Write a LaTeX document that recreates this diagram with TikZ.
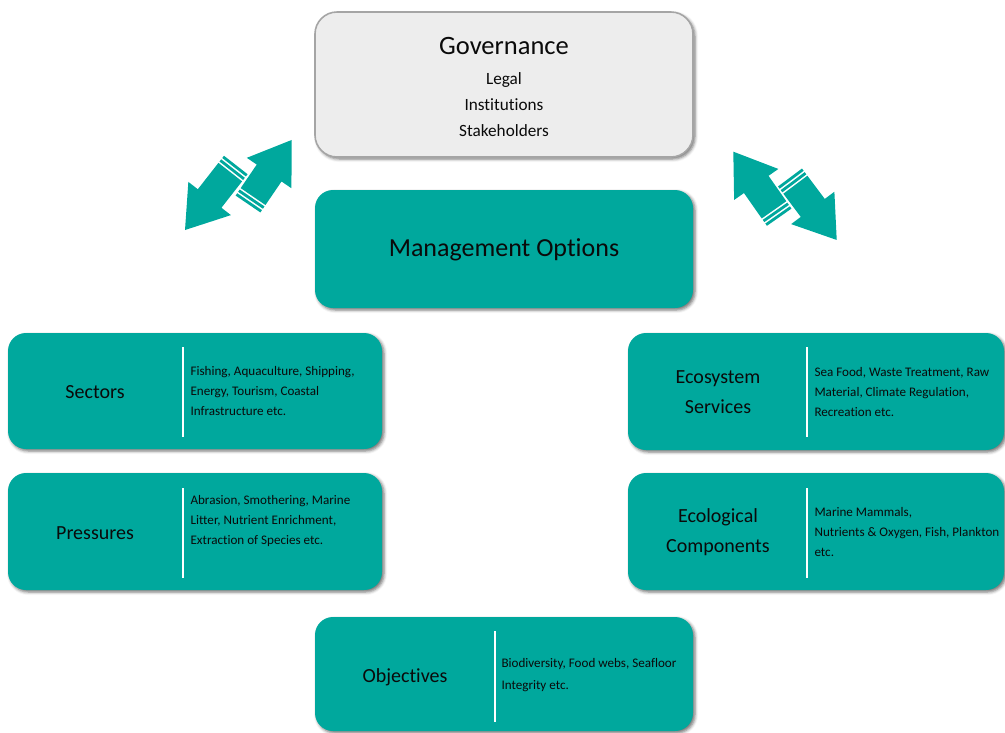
\documentclass[tikz,border=0pt]{standalone}
\usepackage{fontspec}
\setmainfont[Ligatures={NoCommon}]{Carlito}
\usetikzlibrary{shadows.blur}
\definecolor{seaTeal}{RGB}{0,168,157}
\definecolor{govFill}{RGB}{237,237,237}
\definecolor{govLine}{RGB}{165,165,165}
\definecolor{inkText}{RGB}{10,10,10}

\tikzset{
  boxshadow/.style={blur shadow={shadow xshift=2pt, shadow yshift=-2pt,
      shadow blur radius=3pt, shadow opacity=55}},
  tealbox/.style={fill=seaTeal, draw=none, rounded corners=18pt, boxshadow},
  govbox/.style={fill=govFill, draw=govLine, line width=1.6pt,
      rounded corners=22pt, boxshadow},
  titletext/.style={text=inkText, align=center, font=\fontsize{20}{30}\selectfont},
  desctext/.style={text=inkText, align=left, anchor=west,
      font=\fontsize{13.1}{20}\selectfont},
  divider/.style={draw=white, line width=1.5pt},
  % striped block arrow of total length #1, tail at the origin
  pics/stripearrow/.style={code={
    \fill[seaTeal] (0,-15) rectangle (2.8,15);
    \fill[seaTeal] (4.5,-15) rectangle (7.3,15);
    \fill[seaTeal] (9,-15) -- ({#1-40},-15) -- ({#1-40},-27) -- (#1,0)
                  -- ({#1-40},27) -- ({#1-40},15) -- (9,15) -- cycle;
  }}
}

\begin{document}
\begin{tikzpicture}[x=1pt,y=-1pt]
\useasboundingbox (0,0) rectangle (1005,732);

% governance and management
\node[govbox, minimum width=378pt, minimum height=145pt] (gov) at (504,84.5) {};
\node[text=inkText, font=\fontsize{26.5}{30}\selectfont] (govtitle) at (504,46) {Governance};
\node[text=inkText, align=center, font=\fontsize{17.2}{26}\selectfont] (govlist) at (504,105)
  {Legal\\Institutions\\Stakeholders};

\node[tealbox, minimum width=378pt, minimum height=118pt] (mgmt) at (504,249) {};
\node[text=inkText, font=\fontsize{26}{30}\selectfont] (mgmttitle) at (504,250) {Management Options};

% left column
\node[tealbox, minimum width=374pt, minimum height=116pt] (sect) at (195,391) {};
\draw[divider] (183,347) -- (183,437);
\node[titletext] (secttitle) at (95,392) {Sectors};
\node[desctext] (sectdesc) at (187,391)
  {Fishing, Aquaculture, Shipping,\\Energy, Tourism, Coastal\\Infrastructure etc.};

\node[tealbox, minimum width=374pt, minimum height=117pt] (press) at (195,531.5) {};
\draw[divider] (183,488) -- (183,578);
\node[titletext] (presstitle) at (95,533) {Pressures};
\node[desctext] (pressdesc) at (187,521)
  {Abrasion, Smothering, Marine\\Litter, Nutrient Enrichment,\\Extraction of Species etc.};

% right column
\node[tealbox, minimum width=376pt, minimum height=117pt] (eco) at (816,391.5) {};
\draw[divider] (807,347) -- (807,437);
\node[titletext] (ecotitle) at (718,392) {Ecosystem\\Services};
\node[desctext] (ecodesc) at (811,392)
  {Sea Food, Waste Treatment, Raw\\Material, Climate Regulation,\\Recreation etc.};

\node[tealbox, minimum width=376pt, minimum height=117pt] (comp) at (816,531.5) {};
\draw[divider] (807,488) -- (807,578);
\node[titletext] (comptitle) at (718,532) {Ecological\\Components};
\node[desctext] (compdesc) at (811,532)
  {Marine Mammals,\\Nutrients \& Oxygen, Fish, Plankton\\etc.};

% objectives
\node[tealbox, minimum width=378pt, minimum height=114pt] (obj) at (504,674) {};
\draw[divider] (495,631) -- (495,722);
\node[titletext] (objtitle) at (405,677) {Objectives};
\node[desctext, font=\fontsize{13.1}{22}\selectfont] (objdesc) at (498,675)
  {Biodiversity, Food webs, Seafloor\\Integrity etc.};

% two-way arrows between governance and the side columns
\pic[rotate=55.7] at (248,204) {stripearrow=77.5};
\pic[rotate=232] at (235.8,165) {stripearrow=82.5};
\pic[rotate=125] at (779.2,217.2) {stripearrow=80};
\pic[rotate=-53.2] at (790,177.5) {stripearrow=78};
\end{tikzpicture}
\end{document}
